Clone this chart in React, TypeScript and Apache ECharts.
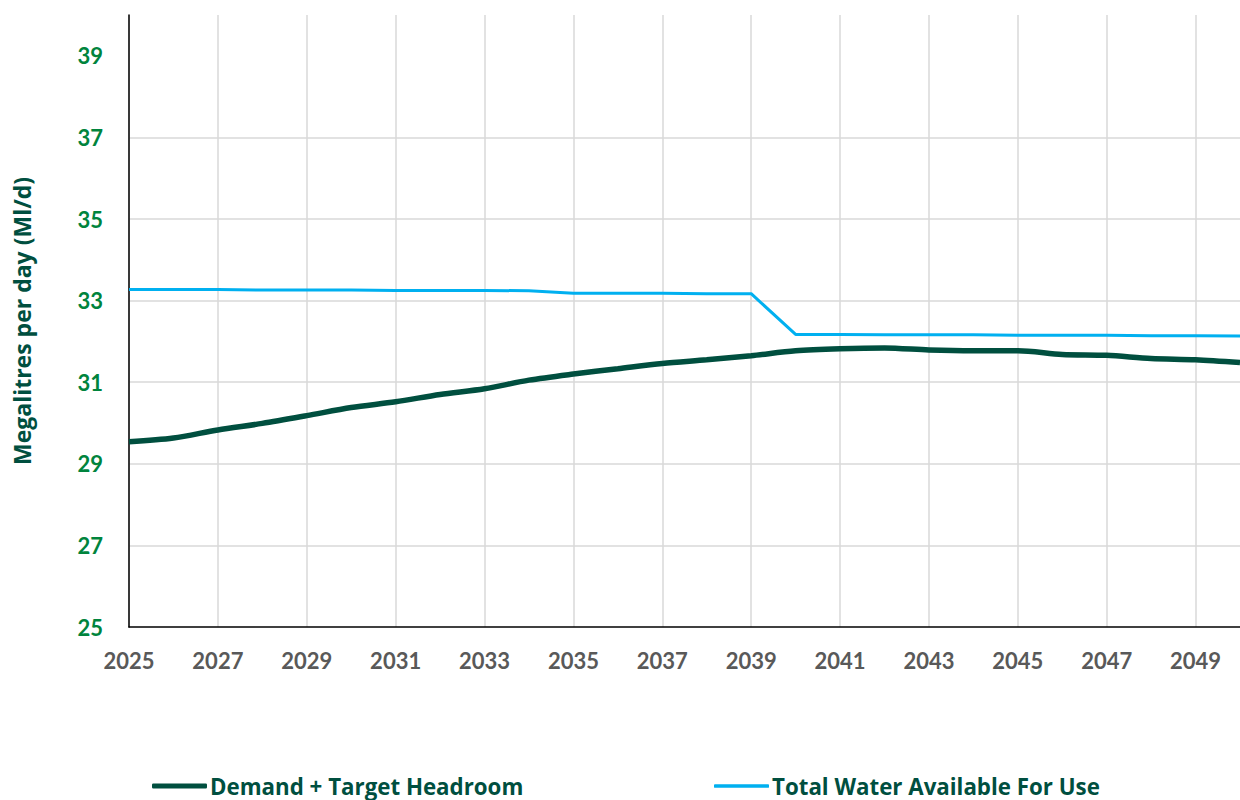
import React, { useEffect, useRef } from "react";
import * as echarts from "echarts";

const years = [
  "2025", "2026", "2027", "2028", "2029", "2030", "2031", "2032", "2033", "2034",
  "2035", "2036", "2037", "2038", "2039", "2040", "2041", "2042", "2043", "2044",
  "2045", "2046", "2047", "2048", "2049", "2050",
];

const demandTargetHeadroom = [
  29.54, 29.63, 29.83, 29.99, 30.18, 30.38, 30.52, 30.70, 30.84, 31.05,
  31.20, 31.33, 31.46, 31.55, 31.65, 31.77, 31.82, 31.84, 31.79, 31.77,
  31.77, 31.68, 31.66, 31.58, 31.55, 31.48,
];

const totalWaterAvailable = [
  33.27, 33.27, 33.27, 33.26, 33.26, 33.26, 33.25, 33.25, 33.25, 33.24,
  33.18, 33.18, 33.18, 33.17, 33.17, 32.17, 32.17, 32.16, 32.16, 32.16,
  32.15, 32.15, 32.15, 32.14, 32.14, 32.13,
];

const yTickValues = [25, 27, 29, 31, 33, 35, 37, 39];

const seriesNames = ["Demand + Target Headroom", "Total Water Available For Use"];

const FONT = "Lato, 'Open Sans', sans-serif";
const WIDE_FONT = "'Open Sans', Lato, sans-serif";
const DARK_GREEN = "#004F3F";
const BLUE = "#00B0F0";

export default function App() {
  const ref = useRef<HTMLDivElement>(null);

  useEffect(() => {
    if (!ref.current) return;
    const chart = echarts.init(ref.current, undefined, { renderer: "svg" });
    const legendText = {
      color: DARK_GREEN,
      fontWeight: "bold",
      fontSize: 22.3,
      fontFamily: WIDE_FONT,
      padding: [0, 0, 0, -2],
    };
    chart.setOption({
      animation: false,
      textStyle: { fontFamily: FONT },
      grid: { left: 129, top: 15, right: -7.5, bottom: 173, containLabel: false },
      legend: [
        {
          data: [seriesNames[0]],
          left: 152,
          top: 775,
          padding: 0,
          icon: "roundRect",
          itemWidth: 55,
          itemHeight: 5,
          textStyle: legendText,
        },
        {
          data: [seriesNames[1]],
          left: 714,
          top: 775,
          padding: 0,
          icon: "roundRect",
          itemWidth: 55,
          itemHeight: 3.5,
          textStyle: legendText,
        },
      ],
      xAxis: {
        type: "category",
        data: years,
        boundaryGap: false,
        axisLine: { show: true, lineStyle: { color: "#000000", width: 1.5 } },
        axisTick: { show: false },
        axisLabel: {
          interval: 1,
          color: "#595959",
          fontWeight: "bold",
          fontSize: 22,
          fontFamily: FONT,
          margin: 22,
        },
        splitLine: { show: true, interval: 1, lineStyle: { color: "#D9D9D9", width: 1.5 } },
      },
      yAxis: {
        type: "value",
        min: 25,
        max: 40,
        name: "Megalitres per day (Ml/d)",
        nameLocation: "middle",
        nameGap: 96,
        nameTextStyle: { color: DARK_GREEN, fontWeight: "bold", fontSize: 23, fontFamily: WIDE_FONT },
        axisLine: { show: true, lineStyle: { color: "#000000", width: 1.5 } },
        axisTick: { show: false, customValues: yTickValues },
        axisLabel: {
          customValues: yTickValues,
          color: "#00843D",
          fontWeight: "bold",
          fontSize: 22,
          fontFamily: FONT,
          margin: 26,
        },
        splitLine: { show: true, showMinLine: false, showMaxLine: false, lineStyle: { color: "#D9D9D9", width: 1.5 } },
      },
      series: [
        {
          name: seriesNames[0],
          type: "line",
          data: demandTargetHeadroom,
          symbol: "none",
          smooth: 0.3,
          lineStyle: { color: DARK_GREEN, width: 5.5 },
          itemStyle: { color: DARK_GREEN },
          z: 3,
        },
        {
          name: seriesNames[1],
          type: "line",
          data: totalWaterAvailable,
          symbol: "none",
          lineStyle: { color: BLUE, width: 3 },
          itemStyle: { color: BLUE },
          z: 2,
        },
      ],
    });
    return () => chart.dispose();
  }, []);

  return (
    <div
      ref={ref}
      style={{ position: "fixed", left: 0, top: 0, width: 1240, height: 800, background: "#ffffff" }}
    />
  );
}
